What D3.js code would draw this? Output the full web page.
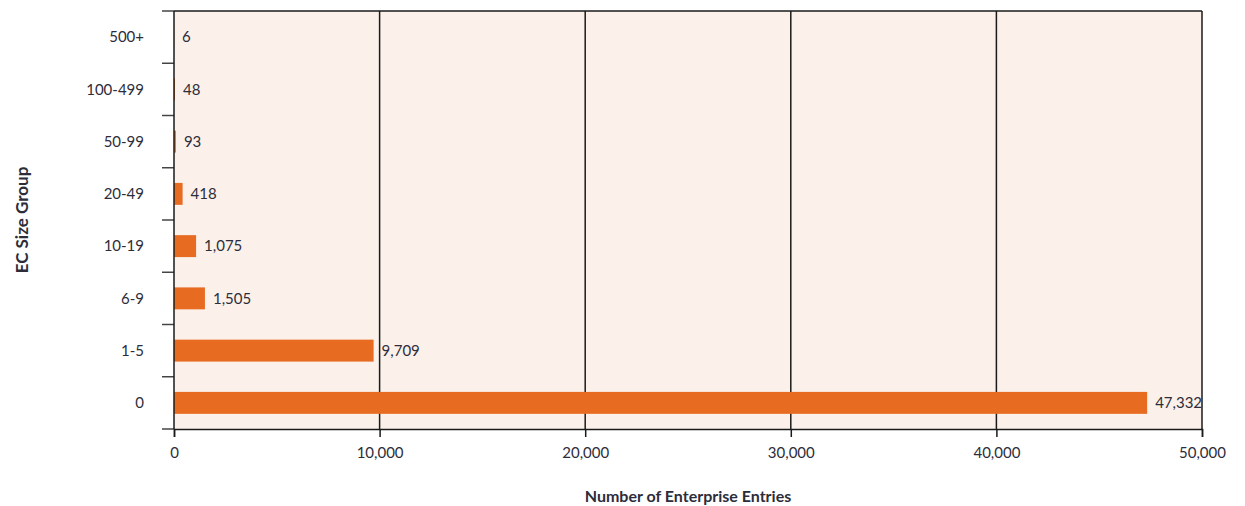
<!DOCTYPE html>
<html>
<head>
<meta charset="utf-8">
<script src="https://cdn.jsdelivr.net/npm/d3@7"></script>
<style>
  html, body { margin: 0; padding: 0; background: #ffffff; }
  svg { display: block; }
  text { font-family: Lato, "Open Sans", sans-serif; fill: #2d2d3a; }
</style>
</head>
<body>
<svg id="chart" width="1245" height="506"></svg>
<script>
// Enterprise entries by employment size class
const categories = ["500+", "100-499", "50-99", "20-49", "10-19", "6-9", "1-5", "0"];
const entries = [6, 48, 93, 418, 1075, 1505, 9709, 47332];
const xTickValues = [0, 10000, 20000, 30000, 40000, 50000];
const xTitle = "Number of Enterprise Entries";
const yTitle = "EC Size Group";

const svg = d3.select("#chart");
const margin = { top: 11, right: 43, bottom: 77, left: 174 };
const width = 1245 - margin.left - margin.right;
const height = 506 - margin.top - margin.bottom;

const g = svg.append("g").attr("transform", `translate(${margin.left},${margin.top})`);

const x = d3.scaleLinear().domain([0, 50000]).range([0, width]);
const y = d3.scaleBand().domain(categories).range([0, height]).paddingInner(0.58).paddingOuter(0.29);

// plot background
g.append("rect")
  .attr("x", 0).attr("y", 0)
  .attr("width", width).attr("height", height)
  .attr("fill", "#fbf1ea");

// vertical gridlines (including right border)
g.selectAll("line.grid")
  .data(xTickValues.filter(d => d > 0))
  .join("line")
  .attr("class", "grid")
  .attr("x1", d => x(d)).attr("x2", d => x(d))
  .attr("y1", 0).attr("y2", height)
  .attr("stroke", "#1a1a1a").attr("stroke-width", 1.5);

// top border
g.append("line")
  .attr("x1", 0).attr("x2", width)
  .attr("y1", 0).attr("y2", 0)
  .attr("stroke", "#1a1a1a").attr("stroke-width", 1.5);

// bars
g.selectAll("rect.bar")
  .data(categories.map((c, i) => ({ c, v: entries[i] })))
  .join("rect")
  .attr("class", "bar")
  .attr("x", 0)
  .attr("y", d => y(d.c))
  .attr("width", d => x(d.v))
  .attr("height", y.bandwidth())
  .attr("fill", "#e86b22");

// value labels
const fmt = d3.format(",");
g.selectAll("text.val")
  .data(categories.map((c, i) => ({ c, v: entries[i] })))
  .join("text")
  .attr("class", "val")
  .attr("x", d => x(d.v) + 8)
  .attr("y", d => y(d.c) + y.bandwidth() / 2)
  .attr("dy", "0.35em")
  .attr("font-size", 15)
  .text(d => fmt(d.v));

// left axis: boundary ticks between categories
const boundaries = d3.range(categories.length + 1).map(i => i * height / categories.length);
g.selectAll("line.ytick")
  .data(boundaries)
  .join("line")
  .attr("class", "ytick")
  .attr("x1", -12).attr("x2", 0)
  .attr("y1", d => d).attr("y2", d => d)
  .attr("stroke", "#444").attr("stroke-width", 1.5);

g.append("line")
  .attr("x1", 0).attr("x2", 0)
  .attr("y1", 0).attr("y2", height)
  .attr("stroke", "#1a1a1a").attr("stroke-width", 1.5);

// category labels
g.selectAll("text.cat")
  .data(categories)
  .join("text")
  .attr("class", "cat")
  .attr("x", -30)
  .attr("y", d => y(d) + y.bandwidth() / 2)
  .attr("dy", "0.35em")
  .attr("text-anchor", "end")
  .attr("font-size", 15)
  .text(d => d);

// bottom axis
const xAxis = d3.axisBottom(x)
  .tickValues(xTickValues)
  .tickFormat(d3.format(","))
  .tickSize(8)
  .tickPadding(10);
const xg = g.append("g").attr("transform", `translate(0,${height})`).call(xAxis);
xg.select(".domain").attr("stroke", "#1a1a1a").attr("stroke-width", 1.5);
xg.selectAll(".tick line").attr("stroke", "#1a1a1a").attr("stroke-width", 1.5);
xg.selectAll(".tick text")
  .attr("font-family", "Lato, 'Open Sans', sans-serif")
  .attr("font-size", 15)
  .attr("fill", "#2d2d3a");

// axis titles
svg.append("text")
  .attr("x", margin.left + width / 2)
  .attr("y", 502)
  .attr("text-anchor", "middle")
  .attr("font-size", 16)
  .attr("font-weight", "bold")
  .text(xTitle);

svg.append("text")
  .attr("transform", `translate(28,${margin.top + height / 2}) rotate(-90)`)
  .attr("text-anchor", "middle")
  .attr("font-size", 17)
  .attr("font-weight", "bold")
  .text(yTitle);
</script>
</body>
</html>
